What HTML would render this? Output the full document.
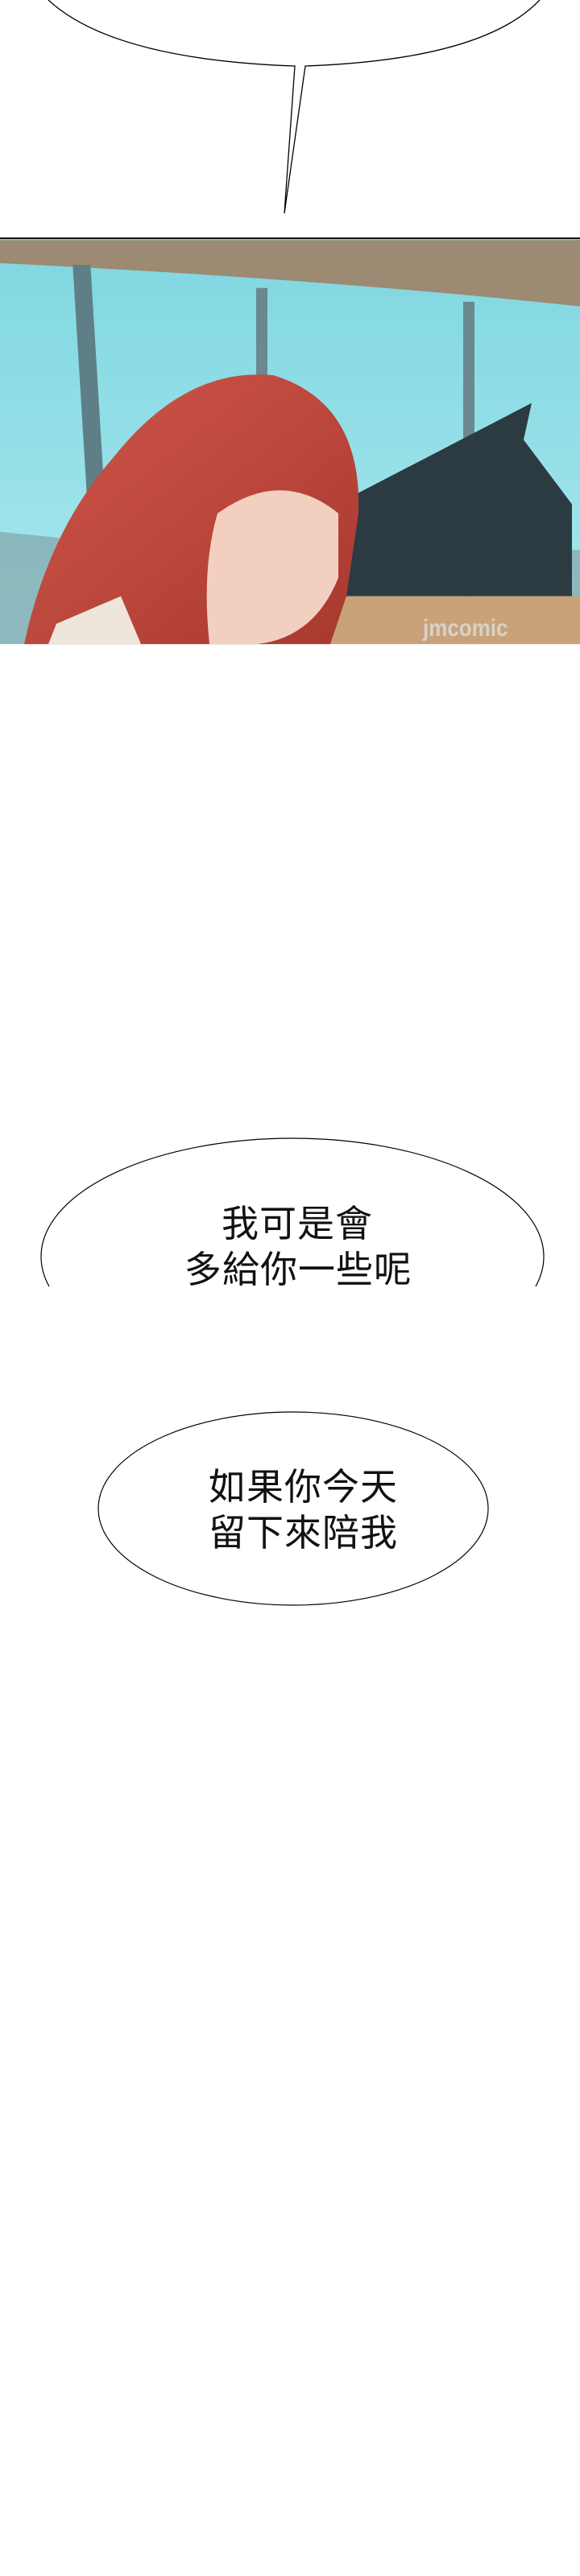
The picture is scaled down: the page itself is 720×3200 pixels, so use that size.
<!DOCTYPE html>
<html><head><meta charset="utf-8"><style>
html,body{margin:0;padding:0;background:#fff;}
body{width:720px;height:3200px;position:relative;overflow:hidden;font-family:"Liberation Sans","Noto Sans CJK TC",sans-serif;}
.t{position:absolute;font-size:46px;line-height:46px;color:#111;white-space:nowrap;letter-spacing:1px;}
</style></head><body>
<svg width="720" height="3200" style="position:absolute;left:0;top:0">
  <path d="M60,0 Q140,74 366,82 L353,265 L379,82 Q600,74 670,0" fill="#fff" stroke="#000" stroke-width="1.3"/>
  <defs>
    <linearGradient id="sky" x1="0" y1="0" x2="0" y2="1">
      <stop offset="0" stop-color="#7fd6e0"/><stop offset="1" stop-color="#a9e8ee"/>
    </linearGradient>
    <linearGradient id="hair" x1="0" y1="0" x2="1" y2="1">
      <stop offset="0" stop-color="#d0574c"/><stop offset="1" stop-color="#a8382f"/>
    </linearGradient>
  </defs>
  <g transform="translate(0,296) scale(1,1.143) translate(0,-261)">
  <rect x="0" y="261" width="720" height="441" fill="url(#sky)"/>
  <path d="M0,263 L720,263 L720,335 Q400,305 0,288 Z" fill="#9c8a72"/>
  <rect x="70" y="290" width="22" height="412" fill="#5f7f88" transform="skewX(4)"/>
  <rect x="318" y="315" width="14" height="387" fill="#6a8890"/>
  <rect x="575" y="330" width="14" height="372" fill="#6a8890"/>
  <path d="M0,580 L0,702 L720,702 L720,600 Q600,590 450,620 Z" fill="#7d9aa0" opacity="0.6"/>
  <path d="M440,540 L660,440 L650,480 L710,550 L710,650 L420,650 Z" fill="#2c3a42"/>
  <rect x="400" y="650" width="320" height="52" fill="#c9a27a"/>
  <path d="M140,500 Q230,400 340,410 Q450,440 445,560 L430,650 L410,702 L30,702 Q60,580 140,500 Z" fill="url(#hair)"/>
  <path d="M270,560 Q350,510 420,560 L420,630 Q390,695 320,702 L260,702 Q250,620 270,560 Z" fill="#f3cfc0"/>
  <path d="M70,680 L150,650 L175,702 L60,702 Z" fill="#eee6da"/>
  <text x="525" y="693" font-family="Liberation Sans" font-weight="bold" font-size="26" fill="#ddd" opacity="0.8">jmcomic</text>
  </g>
  <line x1="0" y1="296" x2="720" y2="296" stroke="#111" stroke-width="2"/>
  <clipPath id="c2"><rect x="0" y="1400" width="720" height="198"/></clipPath>
  <ellipse cx="363" cy="1561" rx="312" ry="147" fill="#fff" stroke="#000" stroke-width="1.2" clip-path="url(#c2)"/>
  <ellipse cx="364" cy="1874" rx="242" ry="120" fill="#fff" stroke="#000" stroke-width="1.2"/>
</svg>
<div class="t" style="left:275px;top:1497px;">我可是會</div>
<div class="t" style="left:229px;top:1554px;">多給你一些呢</div>
<div class="t" style="left:259px;top:1824px;">如果你今天</div>
<div class="t" style="left:259px;top:1881px;">留下來陪我</div>
</body></html>
